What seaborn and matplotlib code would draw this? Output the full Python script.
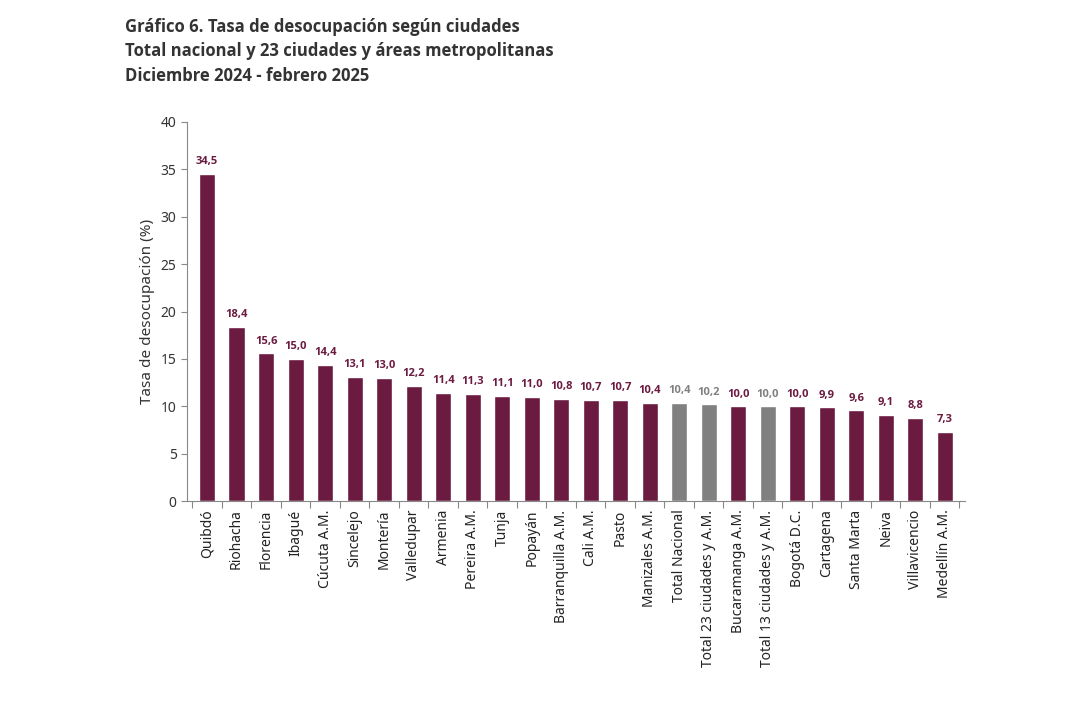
import matplotlib
matplotlib.use("Agg")
import matplotlib.pyplot as plt
import pandas as pd
import seaborn as sns

# Datos del gráfico
ciudades = [
    "Quibdó", "Riohacha", "Florencia", "Ibagué", "Cúcuta A.M.", "Sincelejo",
    "Montería", "Valledupar", "Armenia", "Pereira A.M.", "Tunja", "Popayán",
    "Barranquilla A.M.", "Cali A.M.", "Pasto", "Manizales A.M.", "Total Nacional",
    "Total 23 ciudades y A.M.", "Bucaramanga A.M.", "Total 13 ciudades y A.M.",
    "Bogotá D.C.", "Cartagena", "Santa Marta", "Neiva", "Villavicencio",
    "Medellín A.M.",
]
tasas = [
    34.5, 18.4, 15.6, 15.0, 14.4, 13.1, 13.0, 12.2, 11.4, 11.3, 11.1, 11.0,
    10.8, 10.7, 10.7, 10.4, 10.4, 10.2, 10.0, 10.0, 10.0, 9.9, 9.6, 9.1, 8.8, 7.3,
]
totales = ["Total Nacional", "Total 23 ciudades y A.M.", "Total 13 ciudades y A.M."]

GRANATE = "#6B1A40"
GRIS = "#808080"
NEGRITA = ["Open Sans", "DejaVu Sans"]

df = pd.DataFrame({"ciudad": ciudades, "tasa": tasas})
df["tipo"] = ["total" if c in totales else "ciudad" for c in df["ciudad"]]

sns.set_style("white")
plt.rcParams["font.family"] = ["Noto Sans", "DejaVu Sans"]

fig = plt.figure(figsize=(10.78, 7.04), dpi=100)
ax = fig.add_axes([0.1735, 0.288, 0.7215, 0.539])

sns.barplot(data=df, x="ciudad", y="tasa", hue="tipo",
            palette={"ciudad": GRANATE, "total": GRIS}, saturation=1,
            width=0.55, dodge=False, legend=False, ax=ax)

# Etiquetas de valor
for i, (v, t) in enumerate(zip(df["tasa"], df["tipo"])):
    color = GRIS if t == "total" else GRANATE
    ax.text(i, v + 0.7, f"{v:.1f}".replace(".", ","), ha="center", va="bottom",
            fontsize=8, fontweight="bold", color=color, family=NEGRITA)

ax.set_ylim(0, 40)
ax.set_xlim(-0.68, len(ciudades) - 0.32)
ax.set_yticks(range(0, 41, 5))
ax.set_xlabel("")
ax.set_ylabel("Tasa de desocupación (%)", fontsize=11, color="#333333")
ax.tick_params(axis="y", labelsize=10, colors="#333333", length=4, color="#888888", left=True)
ax.set_xticks(range(len(ciudades)))
ax.set_xticklabels(ciudades, rotation=90)
ax.tick_params(axis="x", which="major", length=0, labelsize=10, labelcolor="#222222", pad=6)
ax.set_xticks([i + 0.5 for i in range(-1, len(ciudades))], minor=True)
ax.tick_params(axis="x", which="minor", bottom=True, length=5, width=0.8,
               color="#888888", direction="out")

for s in ["top", "right"]:
    ax.spines[s].set_visible(False)
for s in ["left", "bottom"]:
    ax.spines[s].set_color("#888888")
    ax.spines[s].set_linewidth(0.8)

titulo = [
    "Gráfico 6. Tasa de desocupación según ciudades",
    "Total nacional y 23 ciudades y áreas metropolitanas",
    "Diciembre 2024 - febrero 2025",
]
for k, linea in enumerate(titulo):
    fig.text(0.116, 0.955 - 0.035 * k, linea, fontsize=12, fontweight="bold",
             color="#333333", va="baseline", family=NEGRITA)

fig.savefig("out.png", dpi=100)
